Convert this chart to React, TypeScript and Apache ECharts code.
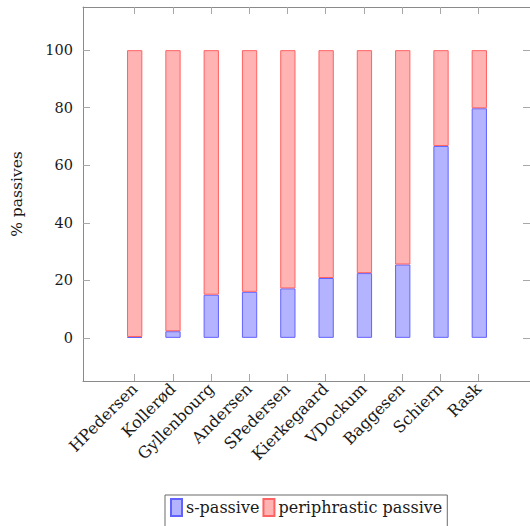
import React, { useEffect, useRef } from "react";
import * as echarts from "echarts";

const categories = ["HPedersen", "Kollerød", "Gyllenbourg", "Andersen", "SPedersen", "Kierkegaard", "VDockum", "Baggesen", "Schiern", "Rask"];
const sPassive = [0.3, 2.3, 15, 16, 17.2, 20.8, 22.5, 25.5, 66.7, 79.8];
const periphrastic = [99.7, 97.7, 85, 84, 82.8, 79.2, 77.5, 74.5, 33.3, 20.2];
const yTicks = [0, 20, 40, 60, 80, 100];
const seriesNames = ["s-passive", "periphrastic passive"];

const FONT = "DejaVu Serif";

// layout
const W = 530;
const GRID_LEFT = 83;
const GRID_RIGHT_EDGE = 531;
const GRID_TOP = 7;
const GRID_BOTTOM = 145;
const X_MIN = -1.35;
const X_MAX = 10.35;

export default function App() {
  const ref = useRef<HTMLDivElement>(null);
  useEffect(() => {
    if (!ref.current) return;
    const chart = echarts.init(ref.current, null, { renderer: "svg" });
    const idx = categories.map((_, i) => i);
    const tickColor = "#a8a8a8";
    const lineColor = "#8a8a8a";
    const unit = (GRID_RIGHT_EDGE - GRID_LEFT) / (X_MAX - X_MIN);
    const catLeft = GRID_LEFT + (-0.5 - X_MIN) * unit;
    const catRightEdge = catLeft + categories.length * unit;
    chart.setOption({
      animation: false,
      textStyle: { fontFamily: FONT },
      grid: [
        { left: GRID_LEFT, top: GRID_TOP, right: W - GRID_RIGHT_EDGE, bottom: GRID_BOTTOM, show: false },
        { left: catLeft, top: GRID_TOP, right: W - catRightEdge, bottom: GRID_BOTTOM, show: false },
      ],
      xAxis: [
        {
          type: "value",
          gridIndex: 0,
          min: X_MIN,
          max: X_MAX,
          position: "bottom",
          splitLine: { show: false },
          axisLine: { show: true, onZero: false, lineStyle: { color: lineColor, width: 1 } },
          axisTick: { show: true, inside: true, length: 7, customValues: idx, lineStyle: { color: tickColor } },
          axisLabel: {
            show: true,
            customValues: idx,
            rotate: 45,
            margin: 5,
            fontFamily: FONT,
            fontSize: 16,
            color: "#1a1a1a",
            formatter: (v: number) => categories[Math.round(v)] ?? "",
          },
        },
        {
          type: "value",
          gridIndex: 0,
          min: X_MIN,
          max: X_MAX,
          position: "top",
          splitLine: { show: false },
          axisLine: { show: true, onZero: false, lineStyle: { color: lineColor, width: 1 } },
          axisTick: { show: true, inside: true, length: 7, customValues: idx, lineStyle: { color: tickColor } },
          axisLabel: { show: false },
        },
        {
          type: "category",
          gridIndex: 1,
          data: categories,
          show: false,
        },
      ],
      yAxis: [
        {
          type: "value",
          gridIndex: 0,
          min: -15,
          max: 115,
          position: "left",
          name: "% passives",
          nameLocation: "middle",
          nameRotate: 90,
          nameGap: 58,
          nameTextStyle: { fontFamily: FONT, fontSize: 15.5, color: "#1a1a1a" },
          splitLine: { show: false },
          axisLine: { show: true, onZero: false, lineStyle: { color: lineColor, width: 1 } },
          axisTick: { show: true, inside: true, length: 7, customValues: yTicks, lineStyle: { color: tickColor } },
          axisLabel: { show: true, customValues: yTicks, margin: 10, fontFamily: FONT, fontSize: 14.5, color: "#1a1a1a" },
        },
        {
          type: "value",
          gridIndex: 0,
          min: -15,
          max: 115,
          position: "right",
          splitLine: { show: false },
          axisLine: { show: true, onZero: false, lineStyle: { color: lineColor, width: 1 } },
          axisTick: { show: true, inside: true, length: 7, customValues: yTicks, lineStyle: { color: tickColor } },
          axisLabel: { show: false },
        },
        {
          type: "value",
          gridIndex: 1,
          min: -15,
          max: 115,
          show: false,
        },
      ],
      legend: {
        left: 165,
        top: 495,
        orient: "horizontal",
        itemWidth: 11,
        itemHeight: 17,
        itemGap: 3,
        padding: [3, 5, 15, 5],
        borderColor: "#6a6a6a",
        borderWidth: 1,
        icon: "rect",
        textStyle: { fontFamily: FONT, fontSize: 16, color: "#1a1a1a", padding: [0, 0, 0, -1] },
        data: seriesNames,
      },
      series: [
        {
          name: seriesNames[0],
          type: "bar",
          stack: "total",
          barWidth: 15.3,
          xAxisIndex: 2,
          yAxisIndex: 2,
          itemStyle: { color: "#b3b3ff", borderColor: "#6262ff", borderWidth: 1 },
          data: sPassive,
        },
        {
          name: seriesNames[1],
          type: "bar",
          stack: "total",
          barWidth: 15.3,
          xAxisIndex: 2,
          yAxisIndex: 2,
          itemStyle: { color: "#ffb3b3", borderColor: "#ff6262", borderWidth: 1 },
          data: periphrastic,
        },
      ],
    });
    return () => chart.dispose();
  }, []);
  return <div ref={ref} style={{ position: "absolute", left: 0, top: 0, width: 530, height: 526 }} />;
}
